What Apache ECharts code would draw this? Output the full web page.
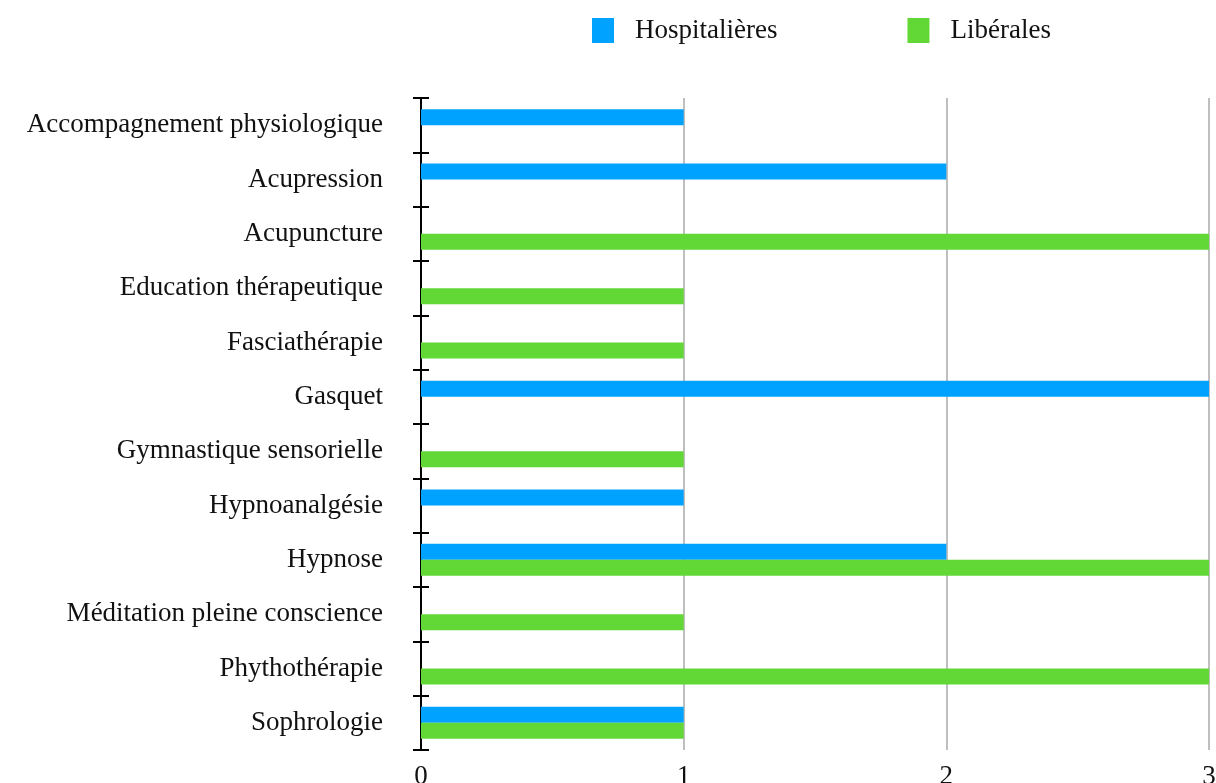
<!DOCTYPE html>
<html>
<head>
<meta charset="utf-8">
<style>
  html, body { margin: 0; padding: 0; background: #fff; }
  #chart { width: 1216px; height: 783px; }
</style>
<script src="https://cdn.jsdelivr.net/npm/echarts@6/dist/echarts.min.js"></script>
</head>
<body>
<div id="chart"></div>
<script>
// categories, top to bottom
const categories = [
  "Accompagnement physiologique",
  "Acupression",
  "Acupuncture",
  "Education thérapeutique",
  "Fasciathérapie",
  "Gasquet",
  "Gymnastique sensorielle",
  "Hypnoanalgésie",
  "Hypnose",
  "Méditation pleine conscience",
  "Phythothérapie",
  "Sophrologie"
];
// null = no bar
const hospitalieres = [1, 2, null, null, null, 3, null, 1, 2, null, null, 1];
const liberales = [null, null, 3, 1, 1, null, 1, null, 3, 1, 3, 1];
const xTicks = [0, 1, 2, 3];

const FONT = '"Liberation Serif", "DejaVu Serif", serif';
const FONT_SIZE = 27;

const chart = echarts.init(document.getElementById("chart"));
chart.setOption({
  backgroundColor: "#ffffff",
  animation: false,
  textStyle: { fontFamily: FONT },
  legend: {
    top: 12,
    left: 587,
    icon: "rect",
    itemWidth: 22,
    itemHeight: 25,
    itemGap: 130,
    textStyle: {
      fontFamily: FONT,
      fontSize: FONT_SIZE,
      color: "#111",
      padding: [0, 0, 0, 16]
    },
    data: ["Hospitalières", "Libérales"]
  },
  grid: {
    left: 421,
    right: 7,
    top: 98,
    bottom: 33,
    containLabel: false,
    outerBoundsMode: "none"
  },
  xAxis: {
    type: "value",
    min: xTicks[0],
    max: xTicks[xTicks.length - 1],
    interval: 1,
    axisLine: { show: false },
    axisTick: { show: false },
    axisLabel: {
      fontFamily: FONT,
      fontSize: FONT_SIZE,
      color: "#111",
      margin: 13
    },
    splitLine: {
      show: true,
      lineStyle: { color: "#bfbfbf", width: 2 }
    }
  },
  yAxis: [
    {
      type: "category",
      data: categories,
      inverse: true,
      axisLine: { show: true, lineStyle: { color: "#000", width: 2 } },
      axisTick: { show: true, length: 8, lineStyle: { color: "#000", width: 2 } },
      axisLabel: {
        fontFamily: FONT,
        fontSize: FONT_SIZE,
        color: "#111",
        margin: 38,
        padding: [5, 0, 0, 0]
      },
      splitLine: { show: false }
    },
    {
      type: "category",
      data: categories,
      inverse: true,
      position: "left",
      axisLine: { show: false },
      axisTick: { show: true, inside: true, length: 8, lineStyle: { color: "#000", width: 2 } },
      axisLabel: { show: false },
      splitLine: { show: false }
    }
  ],
  series: [
    {
      name: "Hospitalières",
      type: "bar",
      data: hospitalieres,
      barWidth: 16,
      barGap: "0%",
      itemStyle: { color: "#00a2ff" }
    },
    {
      name: "Libérales",
      type: "bar",
      data: liberales,
      barWidth: 16,
      barGap: "0%",
      itemStyle: { color: "#61d836" }
    }
  ]
});
</script>
</body>
</html>
